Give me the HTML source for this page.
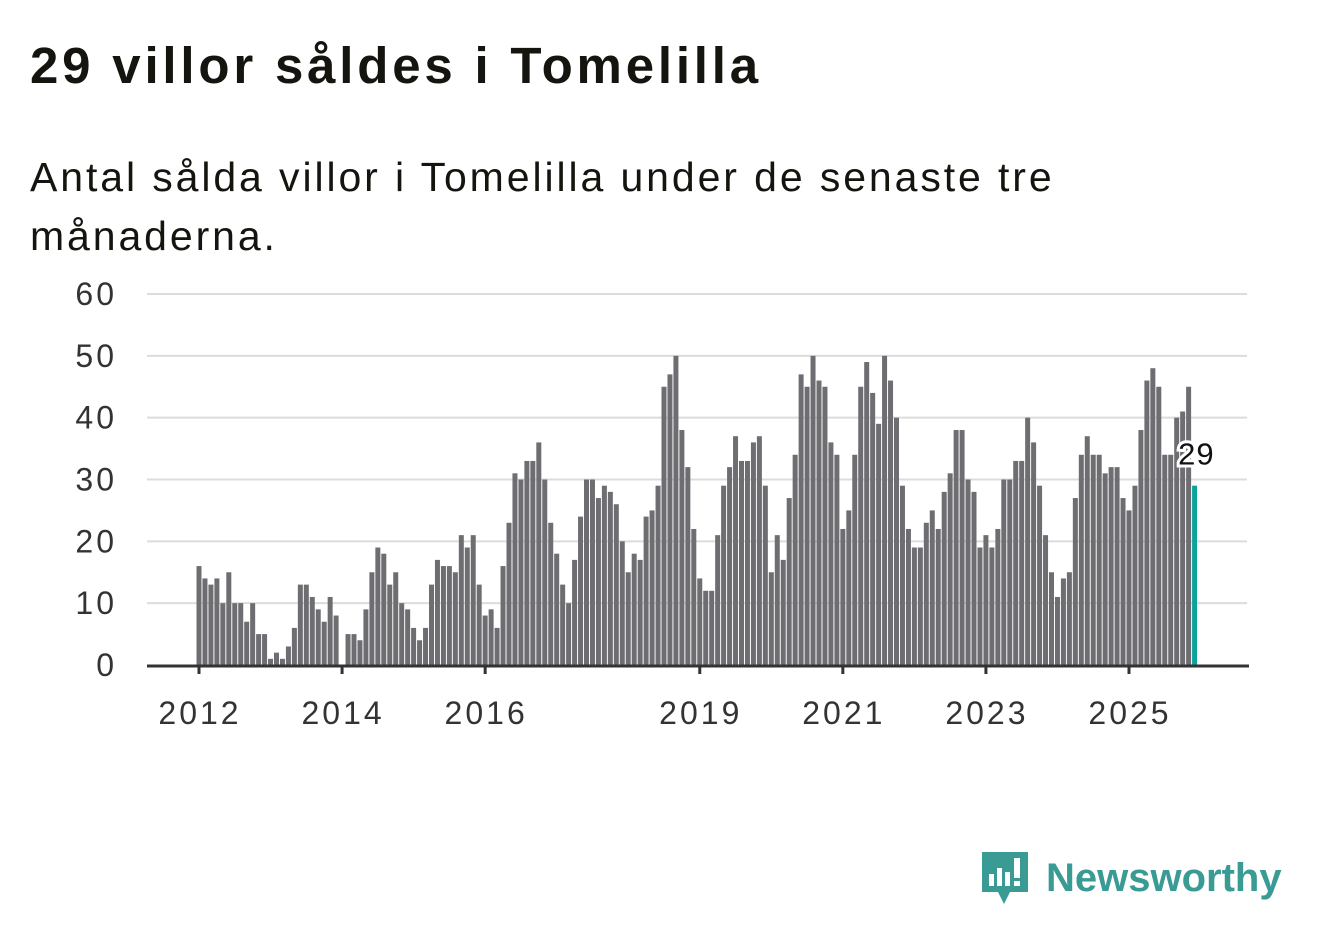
<!DOCTYPE html>
<html><head><meta charset="utf-8"><style>
body{margin:0;width:1322px;height:939px;background:#fff;font-family:"Liberation Sans",sans-serif;overflow:hidden;position:relative}
h1{position:absolute;left:30px;top:36px;margin:0;font-size:51px;font-weight:bold;color:#15140f;letter-spacing:3.8px}
.sub{position:absolute;left:30px;top:148px;margin:0;font-size:41px;line-height:59px;color:#15140f;width:1150px;letter-spacing:2.9px}
svg{position:absolute;left:0;top:0}
.logo{position:absolute;left:980px;top:848px;font-size:40px;color:#3a9a94;font-weight:bold}
</style></head><body>
<h1>29 villor såldes i Tomelilla</h1>
<p class="sub">Antal sålda villor i Tomelilla under de senaste tre<br>månaderna.</p>
<svg id="chart" width="1322" height="939"></svg>
<div class="logo"><svg width="50" height="60" style="position:relative;left:0;top:0;vertical-align:middle"><path d="M2 4h46v40H30l-6 12-6-12H2z" fill="#3a9a94"/><rect x="9" y="26" width="5" height="12" fill="#fff"/><rect x="17" y="20" width="5" height="18" fill="#fff"/><rect x="25" y="24" width="5" height="14" fill="#fff"/><rect x="34" y="10" width="6" height="20" fill="#fff"/><rect x="34" y="33" width="6" height="5" fill="#fff"/></svg><span style="margin-left:16px;vertical-align:middle">Newsworthy</span></div>
<script>
const values2012=[16,14,13,14,10,15,10,10,7,10,5,5];
const values2013=[1,2,1,3,6,13,13,11,9,7,11,8];
const values2014=[0,5,5,4,9,15,19,18,13,15,10,9];
const values2015=[6,4,6,13,17,16,16,15,21,19,21,13];
const values2016=[8,9,6,16,23,31,30,33,33,36,30,23];
const values2017=[18,13,10,17,24,30,30,27,29,28,26,20];
const values2018=[15,18,17,24,25,29,45,47,50,38,32,22];
const values2019=[14,12,12,21,29,32,37,33,33,36,37,29];
const values2020=[15,21,17,27,34,47,45,50,46,45,36,34];
const values2021=[22,25,34,45,49,44,39,50,46,40,29,22];
const values2022=[19,19,23,25,22,28,31,38,38,30,28,19];
const values2023=[21,19,22,30,30,33,33,40,36,29,21,15];
const values2024=[11,14,15,27,34,37,34,34,31,32,32,27];
const values2025=[25,29,38,46,48,45,34,34,40,41,45,29];
const yTicks=[0,10,20,30,40,50,60];
const xTickLabels=["2012","2014","2016","2019","2021","2023","2025"];
const values=[].concat(values2012,values2013,values2014,values2015,values2016,values2017,values2018,values2019,values2020,values2021,values2022,values2023,values2024,values2025);
const NS="http://www.w3.org/2000/svg";
const svg=document.getElementById('chart');
const y0=665,yPer=(665-294)/60;
const x0=199,perMonth=(1129-199)/156;
const yS=v=>y0-v*yPer;
const xS=i=>x0+i*perMonth;
function mk(t,a){const e=document.createElementNS(NS,t);for(const k in a)e.setAttribute(k,a[k]);svg.appendChild(e);return e;}
yTicks.forEach(v=>{
 if(v>0){const l=mk('line',{x1:147,x2:1247,y1:yS(v),y2:yS(v),stroke:'#dcdcdc','stroke-width':2});
 
 }
 const t=mk('text',{x:117,y:yS(v)+11,'text-anchor':'end','font-size':32,'letter-spacing':3,fill:'#333','font-family':'Liberation Sans'});
 t.textContent=v;
 
 
});
values.forEach((v,i)=>{
 const last=i===values.length-1;
 const r=mk('rect',{x:xS(i)-2.5,y:yS(v),width:5,height:v*yPer,fill:last?'#0ba39a':'#6e6d72'});
 
 
});
const ax=mk('line',{x1:147,x2:1249,y1:y0+1,y2:y0+1,stroke:'#333','stroke-width':3});


xTickLabels.forEach(s=>{
 const x=xS((+s-2012)*12);
 const tk=mk('line',{x1:x,x2:x,y1:y0,y2:y0+9,stroke:'#333','stroke-width':3});
 
 
 const t=mk('text',{x:x+1,y:724,'text-anchor':'middle','font-size':32,'letter-spacing':3,fill:'#333','font-family':'Liberation Sans'});
 t.textContent=s;
 
 
});
const li=values.length-1;
const lab=mk('text',{x:xS(li)+20,y:yS(values[li])-21,'text-anchor':'end','font-size':31,'letter-spacing':1,fill:'#111',stroke:'#fff','stroke-width':6,'paint-order':'stroke','font-family':'Liberation Sans'});
lab.textContent=values[li];


</script>
</body></html>
